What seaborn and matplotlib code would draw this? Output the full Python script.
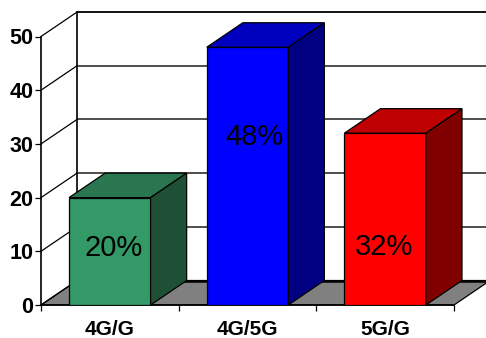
#!/usr/bin/env python3
import matplotlib
matplotlib.use("Agg")
import matplotlib.pyplot as plt
from matplotlib.patches import Polygon
import seaborn as sns

categories = ["4G/G", "4G/5G", "5G/G"]
values = [20, 48, 32]
labels = ["20%", "48%", "32%"]
y_ticks = [0, 10, 20, 30, 40, 50]

front_colors = ["#339966", "#0000FF", "#FF0000"]
top_colors = ["#2A7650", "#0000BF", "#BF0000"]
side_colors = ["#1E5036", "#000080", "#800000"]

# depth of the fake 3D box, in data units
DX = 0.262
DY = 4.56
W, H = 486, 338

sns.set_theme(style="white")
plt.rcParams["font.family"] = ["Liberation Sans", "DejaVu Sans"]

fig = plt.figure(figsize=(W / 100, H / 100), dpi=100)
ax = fig.add_axes([41 / W, 1 - 305 / H, 413 / W, 268.5 / H])

sns.barplot(
    x=categories,
    y=values,
    hue=categories,
    palette=front_colors,
    saturation=1,
    width=0.592,
    edgecolor="black",
    linewidth=0.9,
    legend=False,
    ax=ax,
    zorder=5,
)
ax.set_xlim(-0.5, 2.5)
ax.set_ylim(0, 50)

# floor
ax.add_patch(Polygon(
    [(-0.5, 0), (2.5, 0), (2.5 + DX, DY), (-0.5 + DX, DY)],
    closed=True, facecolor="#808080", edgecolor="black", linewidth=0.9,
    clip_on=False, zorder=1,
))

# walls and gridlines
for t in y_ticks:
    ax.plot([-0.5, -0.5 + DX], [t, t + DY], color="black", lw=0.9, clip_on=False, zorder=2)
    ax.plot([-0.5 + DX, 2.5 + DX], [t + DY, t + DY],
            color="black" if t in (0, 50) else "#404040", lw=1.8 if t == 0 else 1.3,
            clip_on=False, zorder=2)
ax.plot([-0.5 + DX, -0.5 + DX], [DY, 50 + DY], color="black", lw=1.2, clip_on=False, zorder=2)

# top and side of each bar come from the seaborn bars
bars = [b for c in ax.containers for b in c]
for bar, top_c, side_c in zip(bars, top_colors, side_colors):
    x0, x1 = bar.get_x(), bar.get_x() + bar.get_width()
    h = bar.get_height()
    ax.add_patch(Polygon(
        [(x0, h), (x1, h), (x1 + DX, h + DY), (x0 + DX, h + DY)],
        closed=True, facecolor=top_c, edgecolor="black", linewidth=0.9,
        clip_on=False, zorder=5,
    ))
    ax.add_patch(Polygon(
        [(x1, 0), (x1 + DX, DY), (x1 + DX, h + DY), (x1, h)],
        closed=True, facecolor=side_c, edgecolor="black", linewidth=0.9,
        clip_on=False, zorder=5,
    ))

# labels sit where the original put them, not on the bar centres
label_pos = [(0.03, 10.7), (1.05, 31.2), (1.99, 10.8)]
for (lx, ly), text in zip(label_pos, labels):
    ax.text(lx, ly, text, ha="center", va="center", fontsize=21, color="black", zorder=6)

sns.despine(ax=ax)
for side in ("left", "bottom"):
    ax.spines[side].set_color("black")
    ax.spines[side].set_linewidth(1.2)
    ax.spines[side].set_zorder(4)

ax.set_yticks(y_ticks)
ax.set_xticks(range(len(categories)))
ax.set_xticklabels(categories)
ax.set_xticks([-0.5, 0.5, 1.5, 2.5], minor=True)
ax.tick_params(axis="x", which="major", length=0, pad=11, labelsize=15)
ax.tick_params(axis="x", which="minor", length=4, width=0.9, color="black", bottom=True)
ax.tick_params(axis="y", length=4, width=0.9, color="black", left=True, pad=1.5, labelsize=15.5)
for lab in ax.get_xticklabels() + ax.get_yticklabels():
    lab.set_fontweight("bold")
    lab.set_color("black")
ax.set_xlabel("")
ax.set_ylabel("")

fig.savefig("out.png", dpi=100)
